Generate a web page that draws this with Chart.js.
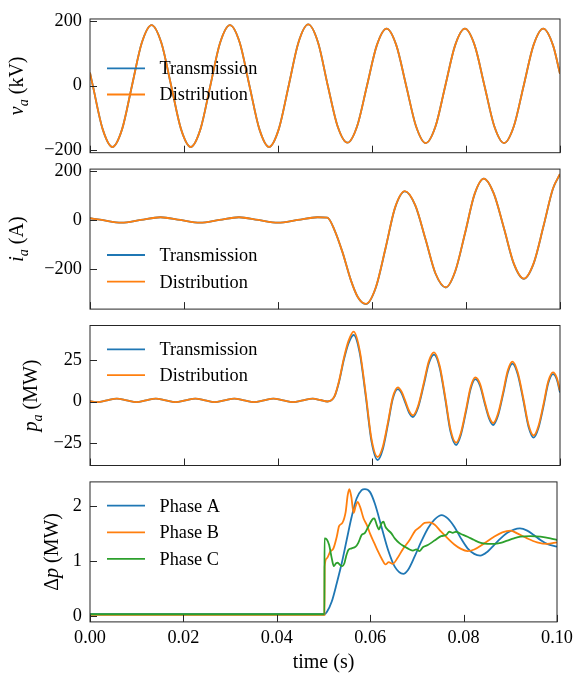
<!DOCTYPE html>
<html>
<head>
<meta charset="utf-8">
<script src="https://cdn.jsdelivr.net/npm/chart.js@4.4.0/dist/chart.umd.min.js"></script>
<style>
html, body { margin: 0; padding: 0; background: #fff; overflow: hidden; }
#wrap { position: relative; width: 578px; height: 673px; }
#wrap canvas { position: absolute; left: 0; top: 0; }
</style>
</head>
<body>
<div id="wrap">
  <canvas id="c1" width="578" height="673"></canvas>
  <canvas id="c2" width="578" height="673"></canvas>
  <canvas id="c3" width="578" height="673"></canvas>
  <canvas id="c4" width="578" height="673"></canvas>
</div>
<script>
// x ticks (time, s)
const xTicks = [0, 0.02, 0.04, 0.06, 0.08, 0.1];

// v_a (kV)
const vT = [0, 0.0006, 0.00268, 0.00477, 0.00685, 0.00893, 0.01102, 0.0131, 0.01518, 0.01727,
  0.01935, 0.02143, 0.02352, 0.0256, 0.02768, 0.02977, 0.03185, 0.03393, 0.03602, 0.0381,
  0.04018, 0.04227, 0.04435, 0.04643, 0.04852, 0.0506, 0.05268, 0.05477, 0.05685, 0.05893,
  0.06102, 0.0631, 0.06518, 0.06727, 0.06935, 0.07143, 0.07352, 0.0756, 0.07768, 0.07977,
  0.08185, 0.08393, 0.08602, 0.0881, 0.09018, 0.09227, 0.09435, 0.09643, 0.09852, 0.1];
const vTrans = [40, 0, -134, -190, -134, 0, 133, 188, 133, 0,
  -134, -190, -134, 0, 133, 188, 134, 0, -134, -190,
  -134, 0, 134, 190, 134, 0, -126, -177, -125, 0,
  125, 177, 125, 0, -125, -178, -126, 0, 125, 177,
  125, 0, -126, -178, -126, 0, 125, 177, 125, 37];
const vDist = [40, 0, -134, -190, -134, 0, 133, 188, 133, 0,
  -134, -190, -134, 0, 133, 188, 134, 0, -134, -190,
  -134, 0, 134, 190, 134, 0, -126, -177, -125, 0,
  125, 177, 125, 0, -125, -178, -126, 0, 125, 177,
  125, 0, -126, -178, -126, 0, 125, 177, 125, 37];
const vTicks = [-200, 0, 200];

// i_a (A)
const iT = [0, 0.0025, 0.0067, 0.0108, 0.0150, 0.0192, 0.0234, 0.0275, 0.0317, 0.0358,
  0.0400, 0.0442, 0.0484, 0.0505, 0.0520, 0.0537, 0.0555, 0.0570, 0.0587, 0.0608,
  0.0629, 0.0649, 0.0670, 0.0692, 0.0714, 0.0735, 0.0757, 0.0777, 0.0798, 0.0818,
  0.0838, 0.0859, 0.0881, 0.0902, 0.0923, 0.0944, 0.0965, 0.0985, 0.1];
const iTrans = [7, 0, -11, 0, 11, 0, -11, 0, 11, 0,
  -11, 0, 11, 9, -40, -130, -245, -315, -343, -276,
  -114, 49, 116, 59, -80, -218, -275, -210, -54, 103,
  168, 108, -36, -180, -240, -177, -25, 127, 186];
const iDist = [7, 0, -11, 0, 11, 0, -11, 0, 11, 0,
  -11, 0, 11, 9, -40, -130, -245, -315, -342, -275,
  -113, 50, 117, 60, -79, -217, -274, -209, -53, 104,
  168, 108, -35, -179, -239, -176, -24, 128, 187];
const iTicks = [-200, 0, 200];

// p_a (MW)
const pT = [0, 0.0016, 0.0036, 0.0057, 0.0078, 0.0099, 0.0119, 0.0140, 0.0161, 0.0182,
  0.0203, 0.0224, 0.0245, 0.0265, 0.0286, 0.0307, 0.0328, 0.0349, 0.0370, 0.0390,
  0.0411, 0.0432, 0.0453, 0.0474, 0.0490, 0.0505, 0.0520, 0.0530, 0.0540, 0.0550,
  0.0561, 0.0574, 0.0587, 0.0599, 0.0612, 0.0623, 0.0634, 0.0644, 0.0655, 0.0663,
  0.0671, 0.0679, 0.0687, 0.0698, 0.0710, 0.0721, 0.0732, 0.0744, 0.0756, 0.0767,
  0.0779, 0.0789, 0.0800, 0.0810, 0.0820, 0.0830, 0.0839, 0.0849, 0.0858, 0.0868,
  0.0879, 0.0889, 0.0899, 0.0910, 0.0922, 0.0933, 0.0944, 0.0954, 0.0965, 0.0975,
  0.0985, 0.0993, 0.1];
const pTrans = [0.3, -0.25, 0.8, 1.8, 0.8, -0.25, 0.8, 1.8, 0.8, -0.25,
  0.8, 1.8, 0.8, -0.25, 0.8, 1.8, 0.8, -0.25, 0.8, 1.8,
  0.8, -0.25, 0.8, 1.8, 1.0, 0.1, 3, 12, 25, 35,
  40, 29, 2.5, -24, -35, -28.5, -13.5, 1.5, 7.5, 5,
  -0.8, -6.7, -9.2, -3.6, 9.8, 23, 28.2, 20.3, 1.2, -18,
  -26, -20, -6, 7.8, 13.5, 9.5, -0.2, -10, -14, -8.5,
  4.5, 17.5, 22.8, 16.4, 0.7, -15, -21.6, -16, -2.6, 11,
  16.5, 13.5, 5.5];
const pDist = [0.3, -0.25, 0.8, 1.8, 0.8, -0.25, 0.8, 1.8, 0.8, -0.25,
  0.8, 1.8, 0.8, -0.25, 0.8, 1.8, 0.8, -0.25, 0.8, 1.8,
  0.8, -0.25, 0.8, 1.8, 1.0, 0.1, 3.2, 12.6, 26, 36.5,
  42, 30.5, 4, -22.5, -33.2, -27, -12.3, 2.5, 8.6, 6,
  0.3, -5.6, -8.2, -2.6, 11, 24.4, 29.6, 21.6, 2.4, -16.6,
  -24.6, -18.8, -4.8, 9, 14.6, 10.6, 0.9, -9, -12.8, -7.3,
  5.7, 18.8, 24, 17.6, 1.9, -13.8, -20.3, -14.8, -1.4, 12.2,
  17.6, 14.5, 6.5];
const pTicks = [-25, 0, 25];

// delta p (MW), one series per phase
const aT = [0, 0.0502, 0.05071, 0.05177, 0.05284, 0.0539, 0.05496, 0.05603, 0.05709, 0.05816,
  0.05887, 0.05993, 0.06099, 0.06241, 0.06383, 0.06525, 0.06709, 0.06809, 0.0695, 0.07092,
  0.07234, 0.07376, 0.07532, 0.07659, 0.07801, 0.07943, 0.08085, 0.08227, 0.08355, 0.08511,
  0.08652, 0.08794, 0.08936, 0.09078, 0.09206, 0.09362, 0.09504, 0.09645, 0.09787, 0.1];
const phaseA = [0.04, 0.04, 0.08, 0.27, 0.6, 0.96, 1.38, 1.8, 2.13, 2.28,
  2.3, 2.25, 2.04, 1.62, 1.2, 0.9, 0.77, 0.84, 1.08, 1.35,
  1.59, 1.75, 1.83, 1.77, 1.62, 1.41, 1.23, 1.13, 1.1, 1.17,
  1.29, 1.41, 1.51, 1.57, 1.59, 1.55, 1.47, 1.38, 1.31, 1.26];

const bT = [0, 0.0502, 0.05025, 0.05071, 0.05142, 0.05213, 0.05284, 0.05333, 0.05404, 0.05475,
  0.05518, 0.05553, 0.05596, 0.05645, 0.05688, 0.0573, 0.05787, 0.05858, 0.05929, 0.05999,
  0.06085, 0.0617, 0.06255, 0.06326, 0.06397, 0.06482, 0.06581, 0.06702, 0.06844, 0.06965,
  0.07057, 0.07163, 0.0727, 0.07376, 0.07518, 0.0766, 0.07801, 0.07943, 0.08085, 0.08227,
  0.0844, 0.08652, 0.0883, 0.09007, 0.09149, 0.09362, 0.09574, 0.09787, 0.1];
const phaseB = [0.03, 0.03, 0.9, 1.05, 1.17, 1.23, 1.44, 1.63, 1.69, 1.89,
  2.19, 2.3, 2.16, 1.87, 1.99, 2.07, 1.97, 1.77, 1.65, 1.49,
  1.33, 1.17, 1.03, 0.94, 0.98, 0.95, 1.05, 1.22, 1.38, 1.55,
  1.61, 1.69, 1.7, 1.66, 1.53, 1.41, 1.3, 1.22, 1.18, 1.21,
  1.32, 1.44, 1.52, 1.55, 1.5, 1.41, 1.34, 1.31, 1.34];

const cT = [0, 0.0502, 0.05021, 0.05071, 0.05121, 0.05177, 0.0522, 0.0527, 0.05305, 0.05355,
  0.05404, 0.05447, 0.05482, 0.05532, 0.05603, 0.05688, 0.05745, 0.05816, 0.05887, 0.05957,
  0.06043, 0.06085, 0.06142, 0.06184, 0.06241, 0.06284, 0.06326, 0.06383, 0.06454, 0.06525,
  0.06631, 0.06738, 0.06844, 0.06915, 0.06986, 0.07057, 0.07128, 0.07234, 0.07376, 0.07518,
  0.07624, 0.07695, 0.07766, 0.07837, 0.07943, 0.08085, 0.08227, 0.08369, 0.08511, 0.08652,
  0.08794, 0.08936, 0.09078, 0.0922, 0.09433, 0.09645, 0.09858, 0.1];
const phaseC = [0.04, 0.04, 1.41, 1.39, 1.29, 1.05, 0.91, 0.96, 0.97, 0.93,
  0.91, 0.96, 1.08, 1.2, 1.23, 1.26, 1.33, 1.47, 1.51, 1.62,
  1.75, 1.77, 1.65, 1.57, 1.68, 1.71, 1.62, 1.56, 1.5, 1.41,
  1.32, 1.26, 1.21, 1.19, 1.21, 1.18, 1.25, 1.29, 1.37, 1.45,
  1.47, 1.53, 1.51, 1.53, 1.49, 1.44, 1.38, 1.33, 1.31, 1.31,
  1.33, 1.37, 1.41, 1.44, 1.45, 1.44, 1.41, 1.38];
const dpTicks = [0, 1, 2];

const BLUE = '#1f77b4', ORANGE = '#ff7f0e', GREEN = '#2ca02c';
const SERIF = "'Liberation Serif', 'Times New Roman', serif";
const W = 578, H = 673;

Chart.defaults.font.family = SERIF;
Chart.defaults.font.size = 18.3;
Chart.defaults.color = '#000';

function pts(ts, vs) {
    return ts.map((t, i) => ({ x: t, y: vs[i] }));
}

// y label with italic / subscript pieces, rotated
function drawYLabel(ctx, parts, xBase, yMid) {
    const size = 20;
    const fontFor = p => `${p.it ? 'italic ' : ''}${p.sub ? 14 : size}px ${SERIF}`;
    let total = 0;
    const widths = parts.map(p => {
        ctx.font = fontFor(p);
        const w = ctx.measureText(p.t).width;
        total += w;
        return w;
    });
    ctx.save();
    ctx.translate(xBase, yMid);
    ctx.rotate(-Math.PI / 2);
    ctx.fillStyle = '#000';
    ctx.textBaseline = 'alphabetic';
    let x = -total / 2;
    parts.forEach((p, i) => {
        ctx.font = fontFor(p);
        ctx.fillText(p.t, x, p.sub ? 0.25 * size : 0);
        x += widths[i];
    });
    ctx.restore();
}

function framePlugin(cfg) {
    return {
        id: 'frame_' + cfg.id,
        afterDatasetsDraw(chart) {
            const { ctx, chartArea: a, scales } = chart;
            ctx.save();
            // legend
            cfg.series.forEach((s, i) => {
                const y = cfg.legendY + i * cfg.legendGap;
                ctx.strokeStyle = s.color;
                ctx.lineWidth = 1.8;
                ctx.beginPath();
                ctx.moveTo(107, y);
                ctx.lineTo(145, y);
                ctx.stroke();
                ctx.fillStyle = '#000';
                ctx.font = `18.3px ${SERIF}`;
                ctx.textBaseline = 'alphabetic';
                ctx.fillText(s.label, 159.5, y + 5.8);
            });
            // axes box
            ctx.strokeStyle = '#262626';
            ctx.lineWidth = 1;
            ctx.strokeRect(a.left, a.top, a.right - a.left, a.bottom - a.top);
            // inward ticks, left and bottom
            ctx.beginPath();
            cfg.yTicks.forEach(v => {
                const py = Math.round(scales.y.getPixelForValue(v)) + 0.5;
                ctx.moveTo(a.left, py);
                ctx.lineTo(a.left + 7, py);
            });
            xTicks.forEach(v => {
                const px = Math.round(scales.x.getPixelForValue(v)) + 0.5;
                ctx.moveTo(px, a.bottom);
                ctx.lineTo(px, a.bottom - 7);
            });
            ctx.stroke();
            drawYLabel(ctx, cfg.yLabel, cfg.yLabelX, (a.top + a.bottom) / 2);
            if (cfg.showX) {
                ctx.fillStyle = '#000';
                ctx.font = `20px ${SERIF}`;
                ctx.textAlign = 'center';
                ctx.textBaseline = 'middle';
                ctx.fillText('time (s)', (a.left + a.right) / 2, 663);
            }
            ctx.restore();
        }
    };
}

function makePanel(cfg) {
    const n = cfg.series.length;
    return new Chart(document.getElementById(cfg.id), {
        type: 'line',
        data: {
            datasets: cfg.series.map((s, i) => ({
                label: s.label,
                data: pts(s.t, s.v),
                borderColor: s.color,
                borderWidth: 1.8,
                pointRadius: 0,
                fill: false,
                cubicInterpolationMode: 'monotone',
                order: n - 1 - i
            }))
        },
        options: {
            responsive: false,
            animation: false,
            events: [],
            layout: { padding: { left: 0, right: W - 560, top: cfg.top, bottom: cfg.showX ? H - cfg.bottom - 40 : H - cfg.bottom } },
            plugins: { legend: { display: false }, tooltip: { enabled: false } },
            scales: {
                x: {
                    type: 'linear', min: 0, max: 0.1, display: cfg.showX,
                    grid: { display: false, drawTicks: false },
                    border: { display: false },
                    ticks: { padding: 5, maxRotation: 0, callback: v => v.toFixed(2) },
                    afterBuildTicks: s => { s.ticks = xTicks.map(v => ({ value: v })); },
                    afterFit: cfg.showX ? (s => { s.height = 40; }) : undefined
                },
                y: {
                    type: 'linear', min: cfg.min, max: cfg.max,
                    grid: { display: false, drawTicks: false },
                    border: { display: false },
                    ticks: { padding: 8, callback: v => String(v).replace('-', '\u2212') },
                    afterBuildTicks: s => { s.ticks = cfg.yTicks.map(v => ({ value: v })); },
                    afterFit: s => { s.width = 90; }
                }
            }
        },
        plugins: [framePlugin(cfg)]
    });
}

makePanel({
    id: 'c1', top: 12.7, bottom: 152.7, min: -208, max: 207, yTicks: vTicks, showX: false,
    legendY: 68.3, legendGap: 26.2, yLabelX: 22.5,
    yLabel: [{ t: 'v', it: true }, { t: 'a', it: true, sub: true }, { t: ' (kV)' }],
    series: [
        { label: 'Transmission', color: BLUE, t: vT, v: vTrans },
        { label: 'Distribution', color: ORANGE, t: vT, v: vDist }
    ]
});

makePanel({
    id: 'c2', top: 169.1, bottom: 309.1, min: -363, max: 207, yTicks: iTicks, showX: false,
    legendY: 255, legendGap: 26.7, yLabelX: 22.5,
    yLabel: [{ t: 'i', it: true }, { t: 'a', it: true, sub: true }, { t: ' (A)' }],
    series: [
        { label: 'Transmission', color: BLUE, t: iT, v: iTrans },
        { label: 'Distribution', color: ORANGE, t: iT, v: iDist }
    ]
});

makePanel({
    id: 'c3', top: 325.5, bottom: 465.5, min: -38.3, max: 45.7, yTicks: pTicks, showX: false,
    legendY: 349.3, legendGap: 25.9, yLabelX: 37,
    yLabel: [{ t: 'p', it: true }, { t: 'a', it: true, sub: true }, { t: ' (MW)' }],
    series: [
        { label: 'Transmission', color: BLUE, t: pT, v: pTrans },
        { label: 'Distribution', color: ORANGE, t: pT, v: pDist }
    ]
});

makePanel({
    id: 'c4', top: 481.9, bottom: 621.9, min: -0.098, max: 2.43, yTicks: dpTicks, showX: true,
    legendY: 505.7, legendGap: 26.6, yLabelX: 58,
    yLabel: [{ t: '\u0394' }, { t: 'p', it: true }, { t: ' (MW)' }],
    series: [
        { label: 'Phase A', color: BLUE, t: aT, v: phaseA },
        { label: 'Phase B', color: ORANGE, t: bT, v: phaseB },
        { label: 'Phase C', color: GREEN, t: cT, v: phaseC }
    ]
});
</script>
</body>
</html>
